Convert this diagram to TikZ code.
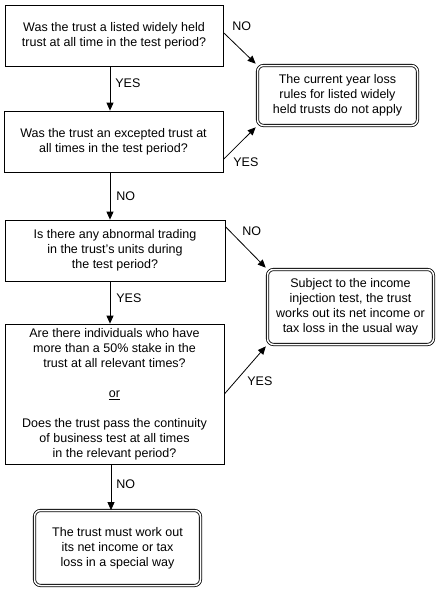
\documentclass[tikz,border=0pt]{standalone}
\usepackage{fontspec}
\setmainfont{Liberation Sans}
\usetikzlibrary{arrows.meta}

\begin{document}
\begin{tikzpicture}[x=1pt,y=-1pt,line width=0.8pt,
    >={Triangle[length=8pt,width=7pt]},
    font=\fontsize{12.5}{15}\selectfont,
    box/.style={draw,rectangle,align=center,inner sep=0pt},
    endbox/.style={draw,double,double distance=1.5pt,rounded corners=6pt,align=center,inner sep=0pt},
    lbl/.style={anchor=west,inner sep=0pt}]
    \useasboundingbox (0,0) rectangle (444,598);
    \node[box,minimum width=218pt,minimum height=61pt] (Q1) at (114,35.5) {Was the trust a listed widely held\\trust at all time in the test period?};
    \node[box,minimum width=219pt,minimum height=61pt] (Q2) at (113.5,141.5) {Was the trust an excepted trust at\\all times in the test period?};
    \node[box,minimum width=220pt,minimum height=61pt] (Q3) at (115,250.5) {Is there any abnormal trading\\in the trust's units during\\the test period?};
    \node[box,minimum width=219pt,minimum height=140pt] (Q4) at (114.5,394) {Are there individuals who have\\more than a 50\% stake in the\\trust at all relevant times?\\[15pt]\underline{or}\\[15pt]Does the trust pass the continuity\\of business test at all times\\in the relevant period?};
    \node[endbox,minimum width=160pt,minimum height=60pt] (R1) at (337.5,95.5) {The current year loss\\rules for listed widely\\held trusts do not apply};
    \node[endbox,minimum width=166pt,minimum height=75pt] (R2) at (350.5,307) {Subject to the income\\injection test, the trust\\works out its net income or\\tax loss in the usual way};
    \node[endbox,minimum width=166pt,minimum height=75pt] (F) at (117.5,548) {The trust must work out\\its net income or tax\\loss in a special way};
    \draw[->] ([xshift=-4pt]Q1.south) -- ([xshift=-3.5pt]Q2.north);
    \draw[->] ([xshift=-3.5pt]Q2.south) -- ([xshift=-5pt]Q3.north);
    \draw[->] ([xshift=-5pt]Q3.south) -- ([xshift=-4.5pt]Q4.north);
    \draw[->] ([xshift=-3.5pt]Q4.south) -- ([xshift=-6.5pt]F.north);
    \draw[->,shorten >=2pt] ([yshift=3pt]Q1.east) -- (R1.north west);
    \draw[->,shorten >=2pt] ([yshift=13pt]Q2.south east) -- (R1.south west);
    \draw[->,shorten >=2pt] ([yshift=-7pt]Q3.north east) -- (R2.north west);
    \draw[->,shorten >=2pt] (Q4.east) -- (R2.south west);
    \node[lbl] (n1) at (232,26.5) {NO};
    \node[lbl] (y1) at (115,83) {YES};
    \node[lbl] (y2) at (233,162) {YES};
    \node[lbl] (n2) at (116,196) {NO};
    \node[lbl] (n3) at (242,231) {NO};
    \node[lbl] (y3) at (116,298) {YES};
    \node[lbl] (y4) at (247,381) {YES};
    \node[lbl] (n4) at (116,484) {NO};
\end{tikzpicture}
\end{document}
